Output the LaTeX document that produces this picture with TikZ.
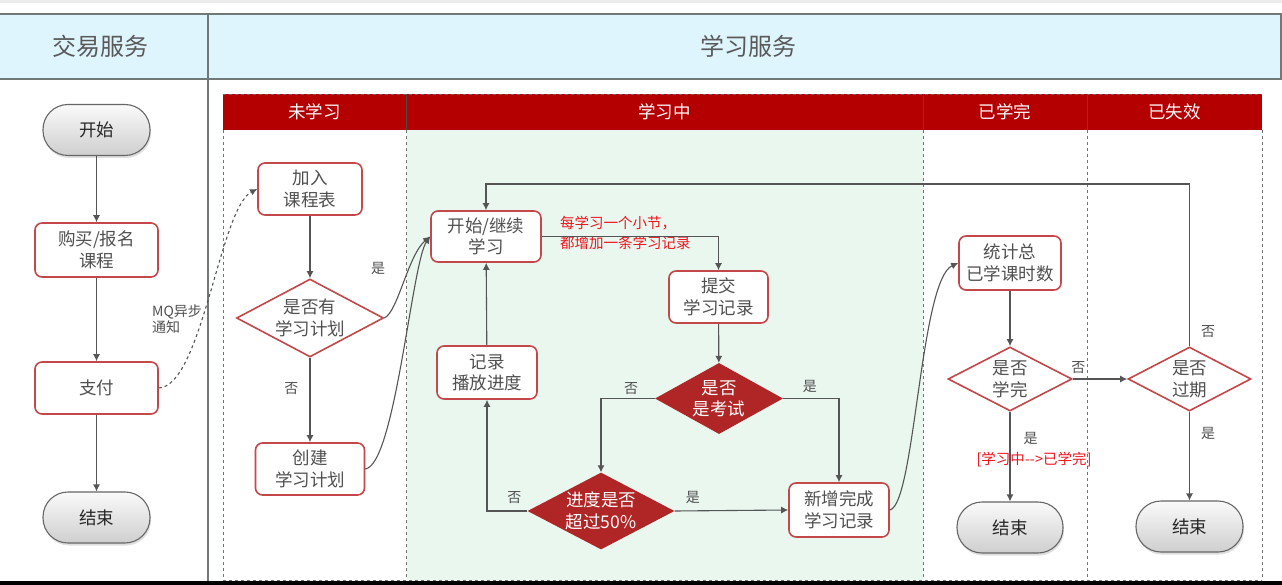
\documentclass[tikz,border=0pt]{standalone}
\usepackage{fontspec}
\newfontfamily\cjk{Noto Sans CJK SC}
\usepackage{xcolor}
\usetikzlibrary{positioning, arrows.meta, shapes.geometric, shadows}

\definecolor{headblue}{HTML}{DFF5FD}
\definecolor{headline}{HTML}{707878}
\definecolor{lanered}{HTML}{B40000}
\definecolor{mint}{HTML}{EAF7EF}
\definecolor{boxred}{HTML}{C4474A}
\definecolor{diared}{HTML}{B02626}
\definecolor{txtgray}{HTML}{505050}
\definecolor{linegray}{HTML}{555555}
\definecolor{notered}{HTML}{F0141E}

\begin{document}
\begin{tikzpicture}[
    x=1pt, y=-1pt,
    every node/.style={font=\cjk\fontsize{17.5}{21.5}\selectfont, text=txtgray, align=center},
    box/.style={rectangle, draw=boxred, line width=1.6pt, rounded corners=7pt, fill=white, minimum width=#1, minimum height=52pt, inner sep=2pt},
    box/.default=104pt,
    pill/.style={rectangle, draw=black!60, line width=1.1pt, rounded corners=25pt, top color=gray!4, bottom color=gray!38, minimum width=107pt, minimum height=51pt, text=black!85, drop shadow={opacity=0.25, shadow xshift=1pt, shadow yshift=-2.5pt}},
    ask/.style={diamond, draw=boxred, line width=1.6pt, fill=white, aspect=1.9, inner sep=0pt},
    askfill/.style={diamond, fill=diared, text=white, aspect=1.8, inner sep=0pt},
    arr/.style={-{Latex[length=7pt,width=7pt]}, line width=1.1pt, draw=linegray},
    lbl/.style={font=\cjk\fontsize{14}{16}\selectfont, text=txtgray, inner sep=1pt},
    note/.style={font=\cjk\fontsize{14.5}{20}\selectfont, text=notered, align=left, inner sep=1pt},
    lanehead/.style={font=\cjk\fontsize{17.5}{20}\selectfont, text=white},
    service/.style={font=\cjk\fontsize{24}{28}\selectfont, text=black!65},
]
\useasboundingbox (0,0) rectangle (1282,585);
\fill[white] (0,0) rectangle (1282,585);
\fill[gray!15] (0,0) rectangle (1282,3);

% service header band
\fill[headblue] (0,14) rectangle (1281,79);
\draw[headline, line width=1.5pt] (0,14) -- (1281,14) -- (1281,79) -- (0,79);
\draw[headline, line width=1.5pt] (208,14) -- (208,581);
\node[service] (trade) at (100,46) {交易服务};
\node[service] (learn) at (748,46) {学习服务};

% lanes
\fill[mint] (406.5,130) rectangle (923,580);
\fill[lanered] (223,94) rectangle (1262,130);
\draw[black!60, dashed, line width=0.6pt] (223,94) -- (1262,94);
\foreach \lx in {406.5,923,1087}
  \draw[black!70, line width=0.8pt] (\lx,94) -- (\lx,130);
\foreach \lx in {223,406.5,923,1087,1262}
  \draw[black!55, dashed, line width=0.7pt] (\lx,130) -- (\lx,580);
\draw[black!55, dashed, line width=0.7pt] (223,580) -- (1262,580);
\node[lanehead] (laneA) at (314.5,112) {未学习};
\node[lanehead] (laneB) at (664.5,112) {学习中};
\node[lanehead] (laneC) at (1005,112) {已学完};
\node[lanehead] (laneD) at (1174.5,112) {已失效};

% trade service
\node[pill] (start) at (96.5,130) {开始};
\node[box=123pt, minimum height=54pt] (buy) at (96.5,250) {购买/报名\\课程};
\node[box=123pt] (pay) at (96.5,388) {支付};
\node[pill] (end1) at (96.5,517.5) {结束};

% not started
\node[box] (join) at (310,189) {加入\\课程表};
\node[ask, minimum width=147pt, minimum height=78pt] (hasplan) at (310,318) {是否有\\学习计划};
\node[box=109pt] (create) at (310,469) {创建\\学习计划};

% learning
\node[box=110pt, minimum height=51pt] (study) at (486,236.5) {开始/继续\\学习};
\node[box=99pt] (submit) at (718.5,297) {提交\\学习记录};
\node[box=100pt, minimum height=53pt] (record) at (487,372.5) {记录\\播放进度};
\node[askfill, minimum width=128pt, minimum height=71pt] (isexam) at (719,398.5) {是否\\是考试};
\node[askfill, minimum width=147pt, minimum height=73pt] (progress) at (601,511) {进度是否\\超过50\%};
\node[box=100pt, minimum height=54pt] (newrec) at (839,510) {新增完成\\学习记录};
\node[note, anchor=west] (notestep) at (559,233) {每学习一个小节，\\都增加一条学习记录};

% finished / expired
\node[box=102pt, minimum height=54pt] (stat) at (1010,263) {统计总\\已学课时数};
\node[ask, minimum width=124pt, minimum height=64pt] (done) at (1010,379) {是否\\学完};
\node[pill, minimum width=106pt] (end2) at (1010,527.5) {结束};
\node[ask, minimum width=123pt, minimum height=64pt] (expired) at (1189.5,379) {是否\\过期};
\node[pill] (end3) at (1189.5,526.5) {结束};
\node[note] (notedone) at (1034,460) {[学习中-{}-{}>已学完]};
\coordinate (looptop) at (1189.5,184);

% connectors
\draw[arr] (start) -- (buy);
\draw[arr] (buy) -- (pay);
\draw[arr] (pay) -- (end1);
\draw[arr, dashed] (pay.east) .. controls (202,386) and (220,208) .. (join.west);
\node[lbl, anchor=west, align=left, inner sep=0pt] (mqnote) at (152,319) {MQ异步\\通知};

\draw[arr] (join) -- (hasplan);
\draw[arr] (hasplan) -- node[lbl, left=10pt, pos=0.36] {否} (create);
\draw[arr] (hasplan.east) .. controls (398,312) and (408,255) .. (study.west);
\node[lbl] (yesplan) at (378,268) {是};
\draw[arr] (create.east) .. controls (395,465) and (412,262) .. (study.west);

\draw[arr] (study.east) -| (submit.north);
\draw[arr] (submit) -- (isexam);
\draw[arr] (isexam.west) -| node[lbl, above=2pt, pos=0.22] {否} (progress.north);
\draw[arr] (isexam.east) -| node[lbl, above=4pt, pos=0.24] {是} (newrec.north);
\draw[arr] (progress.east) -- node[lbl, above=6pt, pos=0.16] {是} (newrec.west);
\draw[arr] (progress.west) -| node[lbl, above=6pt, pos=0.16] {否} (record.south);
\draw[arr] (record) -- (study);
\draw[arr] (newrec.east) .. controls (915,505) and (920,280) .. (stat.west);

\draw[arr] (stat) -- (done);
\draw[arr] (done) -- node[lbl, right=12pt, pos=0.3] {是} (end2);
\draw[arr] (done) -- node[lbl, above=4pt, pos=0.1] {否} (expired);
\draw[arr] (expired) -- node[lbl, right=10pt, pos=0.25] {是} (end3);
\draw[arr] (expired.north) -- node[lbl, right=10pt, pos=0.09] {否} (looptop) -| (study.north);

\fill[black] (0,581) rectangle (1282,585);
\end{tikzpicture}
\end{document}
